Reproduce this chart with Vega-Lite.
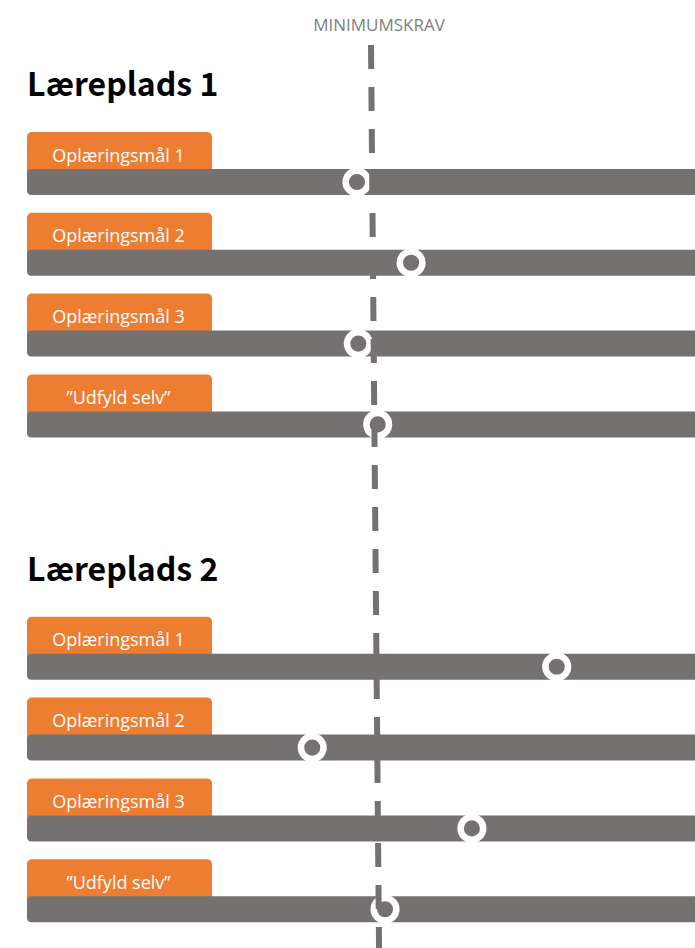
{
  "$schema": "https://vega.github.io/schema/vega-lite/v6.json",
  "width": 695,
  "height": 948,
  "autosize": {"type": "none"},
  "padding": 0,
  "background": "white",
  "config": {"view": {"stroke": null}},
  "datasets": {
    "goals": [
      {"section": "Læreplads 1", "goal": "Oplæringsmål 1", "row": 1, "score": 49.4},
      {"section": "Læreplads 1", "goal": "Oplæringsmål 2", "row": 2, "score": 57.5},
      {"section": "Læreplads 1", "goal": "Oplæringsmål 3", "row": 3, "score": 49.6},
      {"section": "Læreplads 1", "goal": "”Udfyld selv”", "row": 4, "score": 52.5},
      {"section": "Læreplads 2", "goal": "Oplæringsmål 1", "row": 7, "score": 79.3},
      {"section": "Læreplads 2", "goal": "Oplæringsmål 2", "row": 8, "score": 42.7},
      {"section": "Læreplads 2", "goal": "Oplæringsmål 3", "row": 9, "score": 66.6},
      {"section": "Læreplads 2", "goal": "”Udfyld selv”", "row": 10, "score": 53.6}
    ],
    "sections": [
      {"title": "Læreplads 1", "row": 0},
      {"title": "Læreplads 2", "row": 6}
    ],
    "minimum": [
      {"label": "MINIMUMSKRAV", "row": -0.6955, "rowEnd": 10.48, "score": 51.5, "scoreEnd": 52.7}
    ]
  },
  "layer": [
    {
      "data": {"name": "goals"},
      "mark": {"type": "bar", "orient": "horizontal", "height": 40, "yOffset": -30, "color": "#ED7D31", "cornerRadiusTopLeft": 5, "cornerRadiusTopRight": 5, "clip": true},
      "encoding": {
        "x": {"datum": 0, "type": "quantitative", "scale": {"domain": [-4.04, 100], "nice": false, "zero": false, "padding": 0}, "axis": null},
        "x2": {"datum": 27.7},
        "y": {"field": "row", "type": "quantitative", "scale": {"domain": [-1.2525, 10.48], "nice": false, "zero": false, "reverse": true, "padding": 0}, "axis": null}
      }
    },
    {
      "data": {"name": "goals"},
      "mark": {"type": "bar", "orient": "horizontal", "height": 26, "color": "#767171", "cornerRadius": 4, "clip": true},
      "encoding": {
        "x": {"datum": 0, "type": "quantitative"},
        "x2": {"datum": 101},
        "y": {"field": "row", "type": "quantitative"}
      }
    },
    {
      "data": {"name": "goals"},
      "mark": {"type": "text", "align": "center", "baseline": "alphabetic", "dy": -20.5, "font": "Open Sans", "fontSize": 18, "color": "white"},
      "encoding": {
        "x": {"datum": 13.7, "type": "quantitative"},
        "y": {"field": "row", "type": "quantitative"},
        "text": {"field": "goal"}
      }
    },
    {
      "data": {"name": "sections"},
      "mark": {"type": "text", "align": "left", "baseline": "alphabetic", "dy": -5, "font": "Noto Sans CJK JP", "fontWeight": "bold", "fontSize": 32, "color": "black"},
      "encoding": {
        "x": {"datum": 0, "type": "quantitative"},
        "y": {"field": "row", "type": "quantitative"},
        "text": {"field": "title"}
      }
    },
    {
      "data": {"name": "goals"},
      "mark": {"type": "point", "shape": "circle", "filled": true, "size": 511, "fill": "#767171", "stroke": "white", "strokeWidth": 6.5, "opacity": 1, "fillOpacity": 1, "strokeOpacity": 1},
      "encoding": {
        "x": {"field": "score", "type": "quantitative"},
        "y": {"field": "row", "type": "quantitative"}
      }
    },
    {
      "data": {"name": "minimum"},
      "mark": {"type": "rule", "color": "#767171", "strokeWidth": 6, "strokeDash": [24, 18], "strokeCap": "butt", "clip": true},
      "encoding": {
        "x": {"field": "score", "type": "quantitative"},
        "x2": {"field": "scoreEnd"},
        "y": {"field": "row", "type": "quantitative"},
        "y2": {"field": "rowEnd"}
      }
    },
    {
      "data": {"name": "minimum"},
      "mark": {"type": "text", "align": "center", "baseline": "alphabetic", "dx": 8, "dy": -14, "font": "Open Sans", "fontSize": 17, "color": "#7F7F7F"},
      "encoding": {
        "x": {"field": "score", "type": "quantitative"},
        "y": {"field": "row", "type": "quantitative"},
        "text": {"field": "label"}
      }
    }
  ]
}
